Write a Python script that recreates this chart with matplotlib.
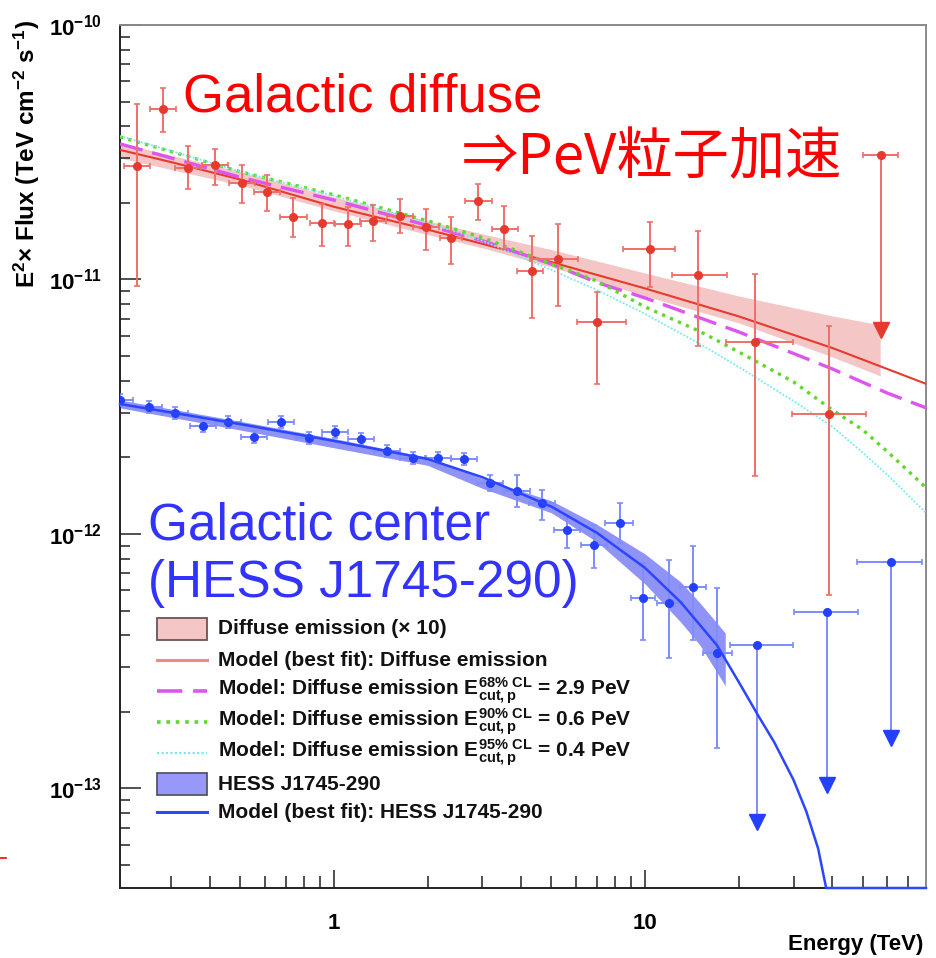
import numpy as np
import matplotlib.pyplot as plt
from matplotlib.patches import Rectangle
from matplotlib.lines import Line2D
from matplotlib.ticker import FixedLocator, FuncFormatter, NullFormatter

# ---- diffuse emission (x10) data points, TeV / TeV cm-2 s-1 ----
red_e = [0.233, 0.282, 0.339, 0.414, 0.506, 0.609, 0.738, 0.915, 1.109, 1.335, 1.630,
         1.976, 2.378, 2.904, 3.52, 4.33, 5.25, 7.01, 10.38, 14.8, 22.6, 39.1]
red_e_lo = [0.211, 0.256, 0.308, 0.376, 0.459, 0.553, 0.671, 0.837, 1.007, 1.212, 1.480,
            1.795, 2.19, 2.64, 3.22, 3.88, 4.27, 6.05, 8.50, 12.21, 18.2, 29.7]
red_e_hi = [0.256, 0.310, 0.373, 0.456, 0.557, 0.671, 0.819, 1.0, 1.221, 1.470, 1.795,
            2.176, 2.58, 3.22, 3.91, 4.70, 6.09, 8.69, 12.49, 18.35, 29.9, 51.4]
red_f = [2.79e-11, 4.68e-11, 2.74e-11, 2.82e-11, 2.39e-11, 2.21e-11, 1.76e-11, 1.67e-11,
         1.65e-11, 1.70e-11, 1.78e-11, 1.61e-11, 1.46e-11, 2.03e-11, 1.58e-11, 1.08e-11,
         1.20e-11, 6.81e-12, 1.32e-11, 1.04e-11, 5.68e-12, 2.96e-12]
red_f_hi = [4.89e-11, 5.66e-11, 3.35e-11, 3.26e-11, 2.82e-11, 2.57e-11, 2.09e-11, 1.98e-11,
            1.93e-11, 1.96e-11, 2.07e-11, 1.89e-11, 1.76e-11, 2.37e-11, 1.94e-11, 1.48e-11,
            1.65e-11, 8.93e-12, 1.68e-11, 1.55e-11, 1.05e-11, 6.57e-12]
red_f_lo = [9.43e-12, 3.80e-11, 2.27e-11, 2.35e-11, 2.00e-11, 1.86e-11, 1.47e-11, 1.35e-11,
            1.35e-11, 1.42e-11, 1.52e-11, 1.31e-11, 1.15e-11, 1.71e-11, 1.32e-11, 7.06e-12,
            7.87e-12, 3.89e-12, 9.34e-12, 5.48e-12, 1.69e-12, 5.76e-13]
# upper limit
red_ul_e, red_ul_e_lo, red_ul_e_hi = [57.4], [50.2], [65.1]
red_ul_f, red_ul_arrow = [3.08e-11], [6.33e-12]

# ---- diffuse models ----
red_band_e = [0.205, 0.5, 1, 2, 3, 5, 10, 20, 40, 57]
red_band_hi = [3.44e-11, 2.65e-11, 2.11e-11, 1.70e-11, 1.51e-11, 1.31e-11, 1.06e-11, 8.61e-12, 7.19e-12, 6.63e-12]
red_band_lo = [3.00e-11, 2.35e-11, 1.86e-11, 1.50e-11, 1.33e-11, 1.12e-11, 8.61e-12, 6.75e-12, 4.96e-12, 4.18e-12]

bestfit_e = [0.205, 0.3, 0.5, 1, 2, 3, 5, 10, 20, 40, 80]
bestfit_f = [3.23e-11, 2.89e-11, 2.47e-11, 1.93e-11, 1.57e-11, 1.38e-11, 1.17e-11, 9.22e-12, 7.16e-12, 5.38e-12, 3.89e-12]

cut29_e = [0.205, 0.3, 0.5, 1, 2, 3, 5, 7, 10, 20, 30, 40, 60, 80]
cut29_f = [3.41e-11, 3.00e-11, 2.52e-11, 2.05e-11, 1.63e-11, 1.42e-11, 1.15e-11, 9.73e-12, 8.46e-12,
           6.22e-12, 5.12e-12, 4.45e-12, 3.58e-12, 3.13e-12]

cut06_e = [0.205, 0.3, 0.5, 1, 2, 3, 5, 7, 10, 15, 20, 30, 40, 50, 60, 80]
cut06_f = [3.63e-11, 3.18e-11, 2.65e-11, 2.15e-11, 1.70e-11, 1.46e-11, 1.15e-11, 9.86e-12, 7.80e-12,
           6.25e-12, 5.19e-12, 3.96e-12, 3.07e-12, 2.57e-12, 2.11e-12, 1.52e-12]

cut04_e = [0.205, 0.3, 0.5, 1, 2, 3, 5, 7, 10, 15, 20, 30, 40, 50, 60, 80]
cut04_f = [3.66e-11, 3.20e-11, 2.65e-11, 2.13e-11, 1.67e-11, 1.42e-11, 1.09e-11, 9.09e-12, 7.32e-12,
           5.58e-12, 4.53e-12, 3.33e-12, 2.64e-12, 2.09e-12, 1.71e-12, 1.21e-12]

# ---- HESS J1745-290 data points ----
blue_e = [0.205, 0.254, 0.308, 0.379, 0.456, 0.553, 0.675, 0.831, 1.007, 1.221, 1.480, 1.795,
          2.16, 2.618, 3.175, 3.876, 4.665, 5.615, 6.855, 8.31, 9.85, 11.95, 14.27, 17.04]
blue_e_lo = [0.186, 0.231, 0.280, 0.345, 0.415, 0.503, 0.614, 0.755, 0.915, 1.110, 1.345, 1.632,
             1.96, 2.38, 2.89, 3.52, 4.24, 5.10, 6.23, 7.44, 9.02, 10.93, 12.96, 15.37]
blue_e_hi = [0.226, 0.279, 0.339, 0.417, 0.502, 0.608, 0.743, 0.914, 1.108, 1.343, 1.628, 1.975,
             2.38, 2.88, 3.49, 4.26, 5.13, 6.18, 7.54, 9.15, 10.77, 13.15, 15.71, 19.04]
blue_f = [3.36e-12, 3.155e-12, 2.99e-12, 2.66e-12, 2.75e-12, 2.40e-12, 2.75e-12, 2.38e-12,
          2.52e-12, 2.36e-12, 2.12e-12, 1.99e-12, 1.99e-12, 1.97e-12, 1.59e-12, 1.48e-12,
          1.32e-12, 1.04e-12, 9.05e-13, 1.10e-12, 5.60e-13, 5.36e-13, 6.19e-13, 3.41e-13]
blue_f_hi = [3.55e-12, 3.33e-12, 3.16e-12, 2.81e-12, 2.90e-12, 2.53e-12, 2.90e-12, 2.51e-12,
             2.66e-12, 2.49e-12, 2.24e-12, 2.10e-12, 2.10e-12, 2.08e-12, 1.71e-12, 1.71e-12,
             1.49e-12, 1.17e-12, 1.085e-12, 1.32e-12, 7.69e-13, 7.90e-13, 8.97e-13, 6.14e-13]
blue_f_lo = [3.18e-12, 2.99e-12, 2.83e-12, 2.52e-12, 2.60e-12, 2.27e-12, 2.60e-12, 2.25e-12,
             2.39e-12, 2.23e-12, 2.01e-12, 1.88e-12, 1.88e-12, 1.87e-12, 1.48e-12, 1.28e-12,
             1.135e-12, 8.81e-13, 7.35e-13, 9.22e-13, 3.83e-13, 3.26e-13, 3.83e-13, 1.44e-13]
blue_ul_e = [22.9, 38.5, 61.8]
blue_ul_e_lo = [18.8, 30.1, 48.1]
blue_ul_e_hi = [29.9, 48.4, 77.7]
blue_ul_f = [3.66e-13, 4.94e-13, 7.76e-13]
blue_ul_arrow = [7.38e-14, 1.03e-13, 1.58e-13]

# ---- HESS J1745-290 model ----
blue_band_e = [0.205, 0.5, 1, 2, 3, 5, 7, 10, 13, 15, 18.1]
blue_band_hi = [3.36e-12, 2.77e-12, 2.37e-12, 2.00e-12, 1.65e-12, 1.35e-12, 1.09e-12, 8.34e-13, 6.48e-13, 5.36e-13, 4.08e-13]
blue_band_lo = [3.13e-12, 2.56e-12, 2.18e-12, 1.86e-12, 1.51e-12, 1.21e-12, 9.31e-13, 6.36e-13, 4.51e-13, 3.66e-13, 2.53e-13]
blue_model_e = [0.205, 0.3, 0.5, 1, 2, 3, 5, 7, 10, 13, 15, 17, 20, 23, 26, 30, 33, 36, 38.2, 80]
blue_model_f = [3.24e-12, 3.00e-12, 2.70e-12, 2.32e-12, 1.97e-12, 1.67e-12, 1.28e-12, 1.01e-12, 7.35e-13,
                5.40e-13, 4.39e-13, 3.66e-13, 2.62e-13, 1.95e-13, 1.52e-13, 1.08e-13, 8.1e-14,
                5.8e-14, 4.06e-14, 4.06e-14]

# axis ticks
x_major = [1, 10]
x_minor = [0.3, 0.4, 0.5, 0.6, 0.7, 0.8, 0.9, 2, 3, 4, 5, 6, 7, 8, 9, 20, 30, 40, 50, 60, 70]
y_major = [1e-13, 1e-12, 1e-11, 1e-10]
y_minor = [m * d for d in [1e-14, 1e-13, 1e-12, 1e-11] for m in range(2, 10) if m * d > 4.1e-14]

legend_labels = [
    'Diffuse emission (\u00d7 10)',
    'Model (best fit): Diffuse emission',
    r'Model: Diffuse emission $E^{68\%\ CL}_{cut,p}$ = 2.9 PeV',
    r'Model: Diffuse emission $E^{90\%\ CL}_{cut,p}$ = 0.6 PeV',
    r'Model: Diffuse emission $E^{95\%\ CL}_{cut,p}$ = 0.4 PeV',
    'HESS J1745-290',
    'Model (best fit): HESS J1745-290',
]

RED_PT, RED_ERR = '#e63a2e', '#ee6f6a'
BLUE_PT, BLUE_ERR = '#2340ff', '#7d8cff'
BAND_RED, BAND_BLUE = '#f4c6c6', '#8f93f6'
C_BEST, C_29, C_06, C_04, C_HESS = '#e8392d', '#dd55ee', '#5fd82a', '#7ae6f0', '#2c46ff'

plt.rcParams['font.family'] = ['Liberation Sans', 'DejaVu Sans']
plt.rcParams['font.weight'] = 'bold'
plt.rcParams['mathtext.fontset'] = 'custom'
plt.rcParams['mathtext.rm'] = 'Liberation Sans:bold'
plt.rcParams['mathtext.bf'] = 'Liberation Sans:bold'
plt.rcParams['mathtext.it'] = 'Liberation Sans:bold'
plt.rcParams['mathtext.default'] = 'bf'

W, H = 936, 958
fig = plt.figure(figsize=(W / 100, H / 100), dpi=100)
ax = fig.add_axes([120 / W, 1 - 888 / H, 806 / W, 863 / H])
ax.set_xscale('log')
ax.set_yscale('log')
ax.set_xlim(0.205, 80)
ax.set_ylim(4.06e-14, 1e-10)


def draw_points(e, e_lo, e_hi, f, f_lo, f_hi, mcolor, ecolor):
    e, e_lo, e_hi = np.array(e), np.array(e_lo), np.array(e_hi)
    f, f_lo, f_hi = np.array(f), np.array(f_lo), np.array(f_hi)
    ax.errorbar(e, f, xerr=[e - e_lo, e_hi - e], yerr=[f - f_lo, f_hi - f], fmt='o', ms=5.5,
                mfc=mcolor, mec=mcolor, ecolor=ecolor, elinewidth=1.4, capsize=2.5,
                capthick=1.2, zorder=5)


def draw_limits(e, e_lo, e_hi, f, arrow, mcolor, ecolor):
    e, e_lo, e_hi = np.array(e), np.array(e_lo), np.array(e_hi)
    f, arrow = np.array(f), np.array(arrow)
    ax.errorbar(e, f, xerr=[e - e_lo, e_hi - e], yerr=[f - arrow, np.zeros_like(f)], fmt='o',
                ms=5.5, mfc=mcolor, mec=mcolor, ecolor=ecolor, elinewidth=1.4, capsize=2.5,
                capthick=1.2, zorder=5)
    ax.plot(e, arrow, 'v', ms=11, color=mcolor, zorder=5)


# diffuse
ax.fill_between(red_band_e, red_band_lo, red_band_hi, color=BAND_RED, lw=0, zorder=1)
ax.plot(bestfit_e, bestfit_f, color=C_BEST, lw=1.5, zorder=3)
ax.plot(cut29_e, cut29_f, color=C_29, lw=2.4, dashes=(7, 3), zorder=3)
ax.plot(cut06_e, cut06_f, color=C_06, lw=2.4, dashes=(1.0, 1.6), zorder=3)
ax.plot(cut04_e, cut04_f, color=C_04, lw=1.3, dashes=(1, 1), zorder=3)
draw_points(red_e, red_e_lo, red_e_hi, red_f, red_f_lo, red_f_hi, RED_PT, RED_ERR)
draw_limits(red_ul_e, red_ul_e_lo, red_ul_e_hi, red_ul_f, red_ul_arrow, RED_PT, RED_ERR)

# galactic centre source
ax.fill_between(blue_band_e, blue_band_lo, blue_band_hi, color=BAND_BLUE, lw=0, zorder=1)
ax.plot(blue_model_e, blue_model_f, color=C_HESS, lw=1.8, zorder=6, clip_on=False)
draw_points(blue_e, blue_e_lo, blue_e_hi, blue_f, blue_f_lo, blue_f_hi, BLUE_PT, BLUE_ERR)
draw_limits(blue_ul_e, blue_ul_e_lo, blue_ul_e_hi, blue_ul_f, blue_ul_arrow, BLUE_PT, BLUE_ERR)

# axes styling
for side in ['left', 'bottom']:
    ax.spines[side].set_color('#222222')
    ax.spines[side].set_linewidth(1.4)
for side in ['top', 'right']:
    ax.spines[side].set_color('#8a8a8a')
    ax.spines[side].set_linewidth(1.4)

ax.xaxis.set_major_locator(FixedLocator(x_major))
ax.xaxis.set_minor_locator(FixedLocator(x_minor))
ax.yaxis.set_major_locator(FixedLocator(y_major))
ax.yaxis.set_minor_locator(FixedLocator(y_minor))
ax.xaxis.set_major_formatter(FuncFormatter(lambda v, p: f'{v:g}'))
ax.xaxis.set_minor_formatter(NullFormatter())
ax.yaxis.set_major_formatter(FuncFormatter(lambda v, p: r'$10^{%d}$' % round(np.log10(v))))
ax.yaxis.set_minor_formatter(NullFormatter())
ax.tick_params(which='both', direction='in', top=False, right=False, color='#333333', width=1.2)
ax.tick_params(axis='y', which='major', length=15, pad=13, labelsize=16)
ax.tick_params(axis='y', which='minor', length=7.5)
ax.tick_params(axis='x', which='major', length=13, pad=18, labelsize=16)
ax.tick_params(axis='x', which='minor', length=9)

fy = lambda py: 1 - py / H

# axis titles, placed the ROOT way (at the far ends of the axes)
fig.text(27 / W, fy(20), 'E$^{2}$\u00d7 Flux (TeV cm$^{-2}$ s$^{-1}$)', fontsize=17.5,
         weight='bold', rotation=90, ha='center', va='top')
fig.text(923 / W, fy(934), 'Energy (TeV)', fontsize=16, weight='bold', ha='right', va='top')

# legend rows
rows_y = [629, 660, 691, 722, 753, 784, 812]
x0, x1, tx = 157 / W, 207 / W, 218 / W
fig.add_artist(Rectangle((x0, fy(rows_y[0] + 11)), x1 - x0, 22 / H, transform=fig.transFigure,
                         fc=BAND_RED, ec='#6e5252', lw=1.3))
fig.add_artist(Line2D([x0, x1], [fy(rows_y[1])] * 2, color='#ef8a7e', lw=2.2))
fig.add_artist(Line2D([x0, x1], [fy(rows_y[2])] * 2, color=C_29, lw=2.6, dashes=(7, 3)))
fig.add_artist(Line2D([x0, x1], [fy(rows_y[3])] * 2, color=C_06, lw=2.6, dashes=(1.0, 1.6)))
fig.add_artist(Line2D([x0, x1], [fy(rows_y[4])] * 2, color=C_04, lw=1.6, dashes=(1, 1)))
fig.add_artist(Rectangle((x0, fy(rows_y[5] + 11)), x1 - x0, 22 / H, transform=fig.transFigure,
                         fc='#9898fa', ec='#555566', lw=1.3))
fig.add_artist(Line2D([x0, x1], [fy(rows_y[6])] * 2, color=C_HESS, lw=2.2))
for py, label in zip(rows_y, legend_labels):
    fig.text(tx, fy(py), label, fontsize=15, va='center', ha='left', color='#111111')

# annotations
fig.text(183 / W, fy(112), 'Galactic diffuse', fontsize=38, color='#ff0000',
         weight='normal', va='baseline')
fig.text(462 / W, fy(158), '\u21d2PeV粒子加速', fontsize=40.5, color='#ff0000', weight='normal',
         va='center', family=['Noto Sans CJK JP', 'DejaVu Sans'])
fig.text(148 / W, fy(540), 'Galactic center', fontsize=37, color='#3333ff',
         weight='normal', va='baseline')
fig.text(148 / W, fy(597), '(HESS J1745-290)', fontsize=37, color='#3333ff',
         weight='normal', va='baseline')

fig.add_artist(Line2D([0, 6 / W], [fy(858)] * 2, color='#ff0000', lw=1.2))

fig.savefig('out.png', dpi=100)
